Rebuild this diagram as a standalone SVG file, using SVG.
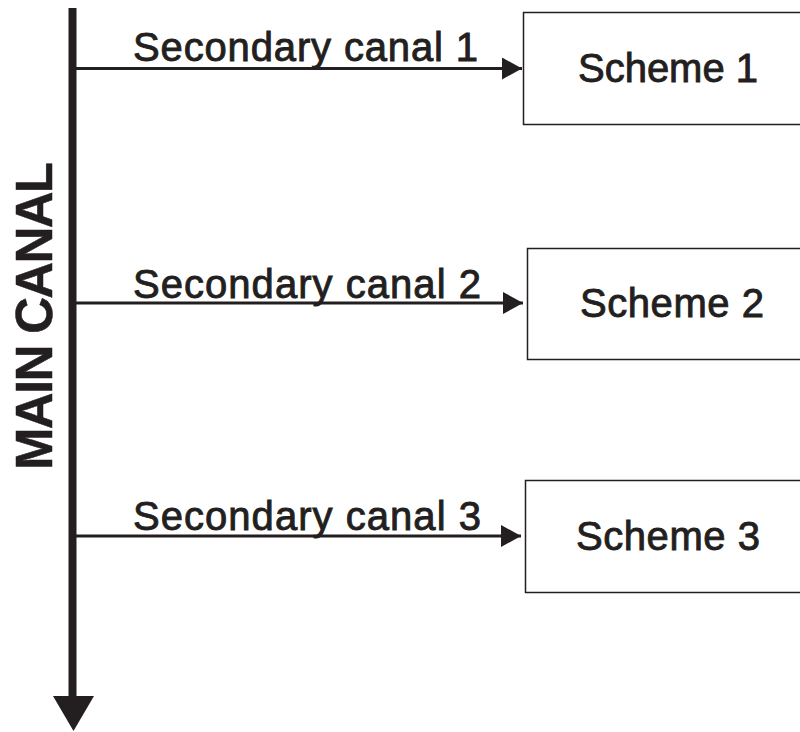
<svg xmlns="http://www.w3.org/2000/svg" width="800" height="732" viewBox="0 0 800 732">
<style>
.lbl{font-family:"Liberation Sans",Arial,sans-serif;font-size:40px;fill:#231f20;stroke:#231f20;stroke-width:0.9}
.box{fill:#fff;stroke:#231f20;stroke-width:1.5}
.br{stroke:#231f20;stroke-width:3;fill:none}
</style>
<defs>
<marker id="ah" markerUnits="userSpaceOnUse" markerWidth="22" markerHeight="24" refX="20" refY="11" orient="auto">
<path d="M0,0 L20,11 L0,22 Z" fill="#231f20"/>
</marker>
</defs>
<rect width="800" height="732" fill="#fff"/>
<g id="connectors">
<line x1="72.5" y1="8" x2="72.5" y2="700" stroke="#231f20" stroke-width="8"/>
<path d="M53,696 L94,696 L73.5,731 Z" fill="#231f20"/>
<line class="br" x1="76" y1="68.5" x2="522" y2="68.5" marker-end="url(#ah)"/>
<line class="br" x1="76" y1="303" x2="523" y2="303" marker-end="url(#ah)"/>
<line class="br" x1="76" y1="536" x2="521" y2="536" marker-end="url(#ah)"/>
<text class="lbl" x="133" y="61" textLength="345">Secondary canal 1</text>
<text class="lbl" x="133" y="298" textLength="348">Secondary canal 2</text>
<text class="lbl" x="133" y="530" textLength="348">Secondary canal 3</text>
</g>
<g id="main-canal">
<text class="lbl" transform="translate(52,316) rotate(-90)" text-anchor="middle" font-weight="bold" style="font-size:51px;stroke-width:0.5" textLength="308">MAIN CANAL</text>
</g>
<g id="scheme1">
<rect class="box" x="523.5" y="12.5" width="300" height="112"/>
<text class="lbl" x="578" y="82" textLength="180">Scheme 1</text>
</g>
<g id="scheme2">
<rect class="box" x="527.5" y="248.5" width="300" height="111"/>
<text class="lbl" x="580" y="317" textLength="184">Scheme 2</text>
</g>
<g id="scheme3">
<rect class="box" x="525.5" y="480.5" width="300" height="112"/>
<text class="lbl" x="576" y="550" textLength="184">Scheme 3</text>
</g>
</svg>
